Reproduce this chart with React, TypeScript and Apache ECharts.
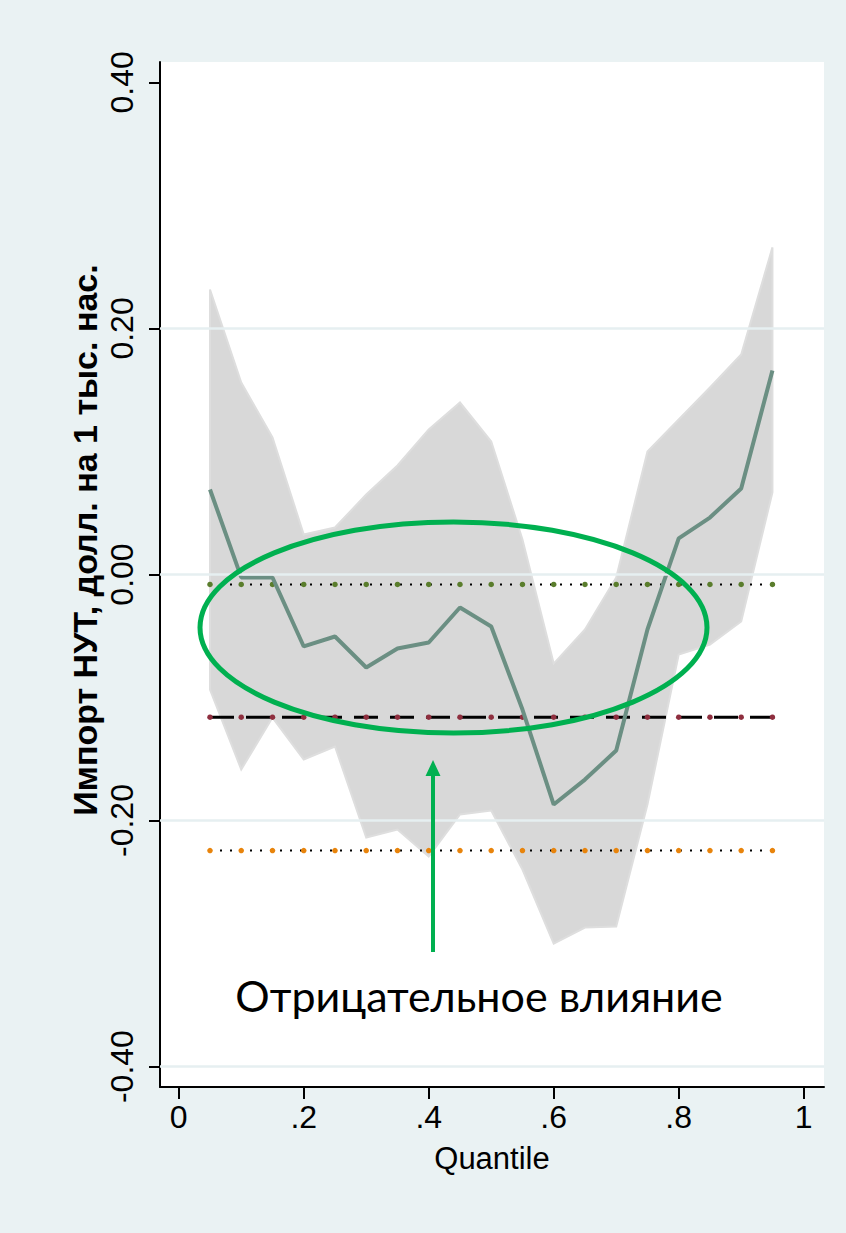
import React, { useEffect, useRef } from "react";
import * as echarts from "echarts";

// ---- data ----
const quantiles = [0.05, 0.1, 0.15, 0.2, 0.25, 0.3, 0.35, 0.4, 0.45, 0.5, 0.55, 0.6, 0.65, 0.7, 0.75, 0.8, 0.85, 0.9, 0.95];
const coef = [0.0691, -0.0024, -0.0024, -0.0585, -0.0504, -0.0756, -0.0602, -0.0553, -0.0268, -0.0423, -0.1098, -0.187, -0.1667, -0.1431, -0.0447, 0.0293, 0.0463, 0.0699, 0.1659];
const ciUpper = [0.2317, 0.1561, 0.1114, 0.0325, 0.0382, 0.065, 0.0886, 0.1179, 0.1398, 0.1081, 0.0285, -0.0724, -0.0447, -0.0024, 0.1, 0.126, 0.152, 0.1789, 0.2659];
const ciLower = [-0.0935, -0.1585, -0.1163, -0.1504, -0.1398, -0.2138, -0.2073, -0.2293, -0.1951, -0.1919, -0.2398, -0.3, -0.287, -0.2862, -0.187, -0.065, -0.0569, -0.0382, 0.0667];
const olsCoef = -0.116;
const olsUpper = -0.0081;
const olsLower = -0.2244;
const xTicks = [0, 0.2, 0.4, 0.6, 0.8, 1];
const yTicks = [-0.4, -0.2, 0, 0.2, 0.4];
const gridValues = [-0.4, -0.2, 0, 0.2];
const yTitle = "Импорт НУТ, долл. на 1 тыс. нас.";
const xTitle = "Quantile";
const annotation = "Отрицательное влияние";

const FONT = "'Liberation Sans', Arial, sans-serif";

export default function App() {
  const ref = useRef<HTMLDivElement>(null);

  useEffect(() => {
    if (!ref.current) return;
    const chart = echarts.init(ref.current, null, { renderer: "svg" });

    const constLine = (v: number) => quantiles.map((q) => [q, v]);

    const option: any = {
      animation: false,
      backgroundColor: "#EAF2F3",
      grid: {
        show: true,
        left: 160,
        top: 62,
        width: 664,
        height: 1025,
        backgroundColor: "#ffffff",
        borderWidth: 0,
      },
      xAxis: {
        type: "value",
        min: -0.03,
        max: 1.0325,
        splitLine: { show: false },
        axisLine: { show: true, onZero: false, lineStyle: { color: "#000", width: 2 } },
        axisTick: { show: true, length: 12, lineStyle: { color: "#000", width: 2 }, customValues: xTicks },
        axisLabel: {
          customValues: xTicks,
          formatter: (v: number) => (v === 0 ? "0" : v === 1 ? "1" : String(v).replace(/^0/, "")),
          color: "#000",
          fontSize: 32,
          fontFamily: FONT,
          margin: 14,
        },
        name: xTitle,
        nameLocation: "middle",
        nameGap: 56,
        nameTextStyle: { color: "#000", fontSize: 31, fontFamily: FONT },
      },
      yAxis: {
        type: "value",
        min: -0.4166,
        max: 0.4166,
        splitLine: { show: false },
        axisLine: { show: true, onZero: false, lineStyle: { color: "#000", width: 2 } },
        axisTick: { show: true, length: 11, lineStyle: { color: "#000", width: 2 }, customValues: yTicks },
        axisLabel: {
          customValues: yTicks,
          rotate: 90,
          formatter: (v: number) => v.toFixed(2),
          color: "#000",
          fontSize: 32,
          fontFamily: FONT,
          margin: 22,
        },
      },
      series: [
        {
          type: "line",
          z: 0,
          data: [],
          markLine: {
            silent: true,
            symbol: "none",
            label: { show: false },
            lineStyle: { color: "#E6EFF1", width: 2.5, type: "solid" },
            data: gridValues.map((v) => ({ yAxis: v })),
          },
        },
        {
          type: "custom",
          z: 1,
          data: [0],
          renderItem: (params: any, api: any) => {
            const pts: number[][] = [];
            quantiles.forEach((q, i) => pts.push(api.coord([q, ciUpper[i]])));
            for (let i = quantiles.length - 1; i >= 0; i--) pts.push(api.coord([quantiles[i], ciLower[i]]));
            return {
              type: "polygon",
              shape: { points: pts },
              style: { fill: "#D8D8D8", stroke: "#DEDEDE", lineWidth: 2 },
            };
          },
        },
        {
          type: "line",
          z: 3,
          data: constLine(olsUpper),
          symbol: "circle",
          symbolSize: 5.5,
          itemStyle: { color: "#5A7D2C" },
          lineStyle: { color: "#000", width: 2, type: [2, 8] },
        },
        {
          type: "line",
          z: 3,
          data: constLine(olsLower),
          symbol: "circle",
          symbolSize: 5.5,
          itemStyle: { color: "#E8840C" },
          lineStyle: { color: "#000", width: 2, type: [2, 8] },
        },
        {
          type: "line",
          z: 3,
          data: constLine(olsCoef),
          symbol: "circle",
          symbolSize: 5.5,
          itemStyle: { color: "#8E2E3E" },
          lineStyle: { color: "#000", width: 3, type: [24, 12] },
        },
        {
          type: "line",
          z: 4,
          data: quantiles.map((q, i) => [q, coef[i]]),
          symbol: "none",
          lineStyle: { color: "#6B8F83", width: 4 },
        },
      ],
      graphic: [
        {
          type: "text",
          x: 85,
          y: 540,
          rotation: Math.PI / 2,
          style: {
            text: yTitle,
            fill: "#000",
            font: `bold 34px ${FONT}`,
            align: "center",
            verticalAlign: "middle",
          },
        },
        {
          type: "ellipse",
          z: 100,
          shape: { cx: 453.5, cy: 627.5, rx: 253.5, ry: 105.5 },
          style: { fill: "none", stroke: "#00B050", lineWidth: 5 },
        },
        {
          type: "line",
          z: 100,
          shape: { x1: 433, y1: 952, x2: 433, y2: 772 },
          style: { stroke: "#00B050", lineWidth: 4 },
        },
        {
          type: "polygon",
          z: 100,
          shape: { points: [[425.5, 776], [440.5, 776], [433, 760]] },
          style: { fill: "#00B050" },
        },
        {
          type: "text",
          z: 100,
          x: 479,
          y: 995,
          style: {
            text: annotation,
            fill: "#000",
            font: "43px Lato, 'Open Sans', sans-serif",
            align: "center",
            verticalAlign: "middle",
          },
        },
      ],
    };

    chart.setOption(option);
    return () => chart.dispose();
  }, []);

  return (
    <div
      ref={ref}
      style={{ position: "absolute", left: 0, top: 0, width: 846, height: 1233 }}
    />
  );
}
